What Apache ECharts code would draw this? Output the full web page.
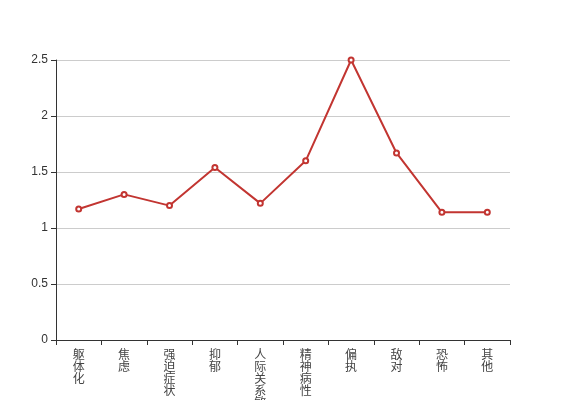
<!DOCTYPE html>
<html><head><meta charset="utf-8">
<script src="https://cdn.jsdelivr.net/npm/echarts@6/dist/echarts.min.js"></script>
<style>html,body{margin:0;padding:0;background:#fff}#c{width:567px;height:400px}</style>
</head><body><div id="c"></div>
<script>
var categories = ['躯体化','焦虑','强迫症状','抑郁','人际关系敏感','精神病性','偏执','敌对','恐怖','其他'];
var values = [1.17, 1.30, 1.20, 1.54, 1.22, 1.60, 2.50, 1.67, 1.14, 1.14];
var yTicks = [0, 0.5, 1, 1.5, 2, 2.5];

var chart = echarts.init(document.getElementById('c'), null, {renderer:'canvas'});
chart.setOption({
  animation: false,
  grid: {left: 56, right: 57, top: 60, bottom: 60, containLabel: false, outerBoundsMode: 'none'},
  xAxis: {
    type: 'category',
    data: categories,
    boundaryGap: true,
    axisLine: {lineStyle: {color: '#333'}},
    axisTick: {show: true, length: 5, lineStyle: {color: '#333'}},
    axisLabel: {
      interval: 0,
      color: '#444',
      fontSize: 12,
      lineHeight: 12,
      margin: 8,
      fontFamily: '"Noto Sans CJK SC", sans-serif',
      formatter: function(v){ return v.split('').join('\n'); }
    }
  },
  yAxis: {
    type: 'value',
    min: 0, max: 2.5, interval: 0.5,
    axisLine: {show: true, lineStyle: {color: '#333'}},
    axisTick: {show: true, length: 5, lineStyle: {color: '#333'}},
    axisLabel: {color: '#333', fontSize: 12, fontFamily: 'sans-serif',
      formatter: function(v){ return String(v); }},
    splitLine: {lineStyle: {color: '#ccc'}}
  },
  series: [{
    type: 'line',
    data: values,
    symbol: 'emptyCircle',
    symbolSize: 5,
    itemStyle: {color: '#c23531', borderWidth: 1},
    lineStyle: {color: '#c23531', width: 2}
  }]
});
</script></body></html>
